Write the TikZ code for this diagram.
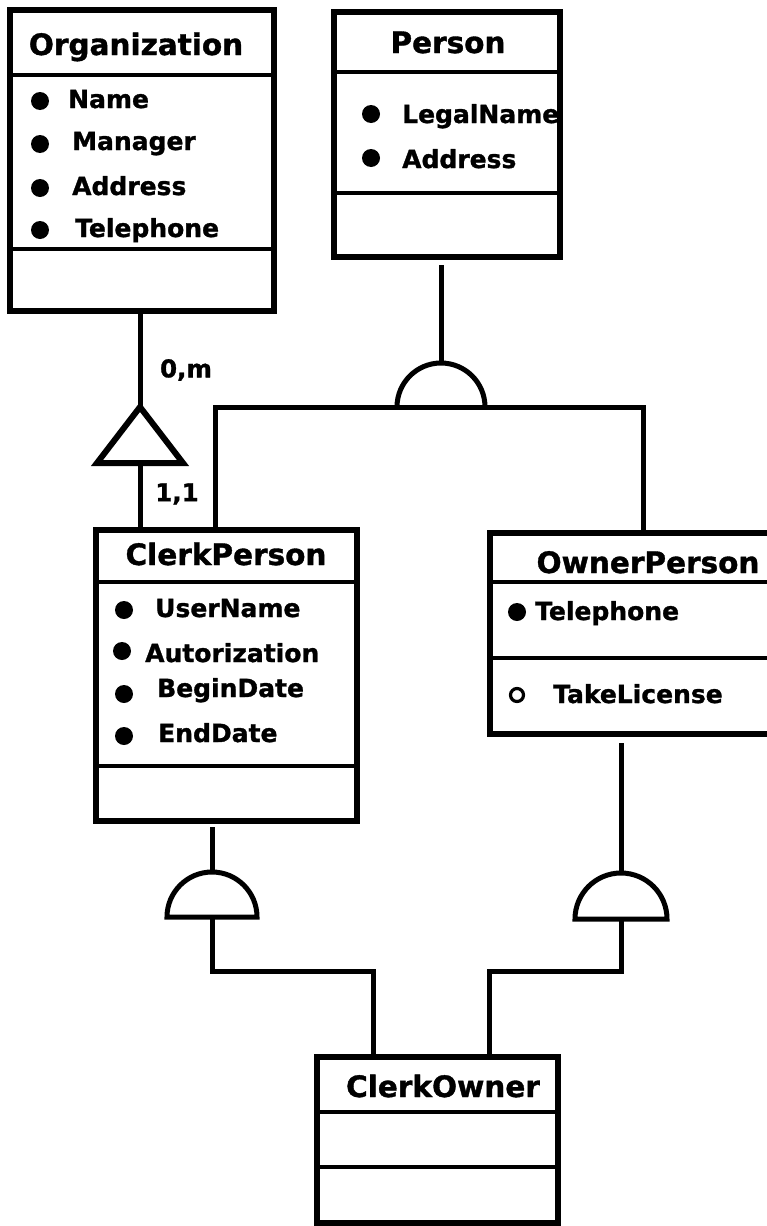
\documentclass[tikz,border=0pt]{standalone}
\usepackage{fontspec}
\setmainfont{DejaVu Sans}[BoldFont={DejaVu Sans Bold}, BoldFeatures={FakeBold=1.2}]
\usetikzlibrary{calc}
\tikzset{
  cls/.style={draw, rectangle, line width=5.5pt, anchor=north west, inner sep=0pt, outer sep=0pt},
  sepline/.style={line width=4.5pt},
  ttl/.style={font=\fontsize{29.5}{30}\selectfont\bfseries, anchor=base, inner sep=0pt},
  attr/.style={font=\fontsize{25}{26}\selectfont\bfseries, anchor=base west, inner sep=0pt},
  card/.style={font=\fontsize{24.5}{26}\selectfont\bfseries, inner sep=0pt},
  conn/.style={line width=5pt},
  bul/.style={fill=black},
  obul/.style={draw=black, line width=3.2pt},
}
\begin{document}
\begin{tikzpicture}[x=1pt,y=-1pt]
\useasboundingbox (0,0) rectangle (767,1226);

% ---------- Organization ----------
\node[cls, minimum width=264pt, minimum height=301pt] (org) at (10,10) {};
\draw[sepline] (org.west |- 0,75) -- (org.east |- 0,75);
\draw[sepline] (org.west |- 0,249) -- (org.east |- 0,249);
\node[ttl] (orgT) at (136,55) {Organization};
\fill[bul] (40,101) circle (9pt);
\node[attr] (orgA1) at (68,108) {Name};
\fill[bul] (40,144) circle (9pt);
\node[attr] (orgA2) at (72,150) {Manager};
\fill[bul] (40,188) circle (9pt);
\node[attr] (orgA3) at (72,195) {Address};
\fill[bul] (40,230) circle (9pt);
\node[attr] (orgA4) at (75,237) {Telephone};

% ---------- Person ----------
\node[cls, minimum width=226pt, minimum height=245pt] (per) at (334,12) {};
\draw[sepline] (per.west |- 0,72) -- (per.east |- 0,72);
\draw[sepline] (per.west |- 0,193) -- (per.east |- 0,193);
\node[ttl] (perT) at (448,53) {Person};
\fill[bul] (371,114) circle (9pt);
\node[attr] (perA1) at (402,123) {LegalName};
\fill[bul] (371,158) circle (9pt);
\node[attr] (perA2) at (402,168) {Address};

% ---------- ClerkPerson ----------
\node[cls, minimum width=261pt, minimum height=291pt] (cp) at (96,530) {};
\draw[sepline] (cp.west |- 0,582) -- (cp.east |- 0,582);
\draw[sepline] (cp.west |- 0,766) -- (cp.east |- 0,766);
\node[ttl] (cpT) at (226,565) {ClerkPerson};
\fill[bul] (124,610) circle (9pt);
\node[attr] (cpA1) at (155,617) {UserName};
\fill[bul] (122,651) circle (9pt);
\node[attr] (cpA2) at (145,662) {Autorization};
\fill[bul] (124,694) circle (9pt);
\node[attr] (cpA3) at (157,697) {BeginDate};
\fill[bul] (124,736) circle (9pt);
\node[attr] (cpA4) at (158,742) {EndDate};

% ---------- OwnerPerson ----------
\node[cls, minimum width=282pt, minimum height=201pt] (op) at (490,533) {};
\draw[sepline] (op.west |- 0,582) -- (op.east |- 0,582);
\draw[sepline] (op.west |- 0,658) -- (op.east |- 0,658);
\node[ttl] (opT) at (648,573) {OwnerPerson};
\fill[bul] (517,612) circle (9pt);
\node[attr] (opA1) at (535,620) {Telephone};
\draw[obul] (517,695) circle (6.5pt);
\node[attr] (opM1) at (553,703) {TakeLicense};

% ---------- ClerkOwner ----------
\node[cls, minimum width=241pt, minimum height=166pt] (co) at (317,1057) {};
\draw[sepline] (co.west |- 0,1112) -- (co.east |- 0,1112);
\draw[sepline] (co.west |- 0,1167) -- (co.east |- 0,1167);
\node[ttl] (coT) at (443,1097) {ClerkOwner};

% ---------- Aggregation triangle ----------
\coordinate (triTop) at (140,407);
\coordinate (triBase) at (140,463);
\draw[conn, line width=6pt, line join=miter] (triTop) -- (97,463) -- (183,463) -- cycle;
\draw[conn] (triTop |- org.south) -- (triTop);
\draw[conn] (triBase) -- (triBase |- cp.north);
\node[card] (cardOM) at (186,370) {0,m};
\node[card] (card11) at (177,494) {1,1};

% ---------- Generalisation Person ----------
\coordinate (pgTop) at (441,363);
\coordinate (pgBase) at (441,407);
\coordinate (pgL) at (215,407);
\coordinate (pgR) at (643,407);
\draw[conn] (397,407) arc[start angle=180, end angle=0, radius=44pt];
\draw[conn, shorten <=8pt] (pgTop |- per.south) -- (pgTop);
\draw[conn, line join=miter] (pgL |- cp.north) -- (pgL) -- (pgR) -- (pgR |- op.north);

% ---------- Generalisation ClerkOwner (left) ----------
\coordinate (csTop) at (212,873);
\coordinate (csBase) at (212,917);
\coordinate (jL) at (373,971);
\draw[conn, line join=miter] (167,917) arc[start angle=180, end angle=0, radius=45pt] -- cycle;
\draw[conn, shorten <=6pt] (csTop |- cp.south) -- (csTop);
\draw[conn, line join=miter] (csBase) |- (jL) -- (jL |- co.north);

% ---------- Generalisation ClerkOwner (right) ----------
\coordinate (osTop) at (621,873);
\coordinate (osBase) at (621,919);
\coordinate (jR) at (489,971);
\draw[conn, line join=miter] (575,919) arc[start angle=180, end angle=0, radius=46pt] -- cycle;
\draw[conn, shorten <=9pt] (osTop |- op.south) -- (osTop);
\draw[conn, line join=miter] (osBase) |- (jR) -- (jR |- co.north);
\end{tikzpicture}
\end{document}
